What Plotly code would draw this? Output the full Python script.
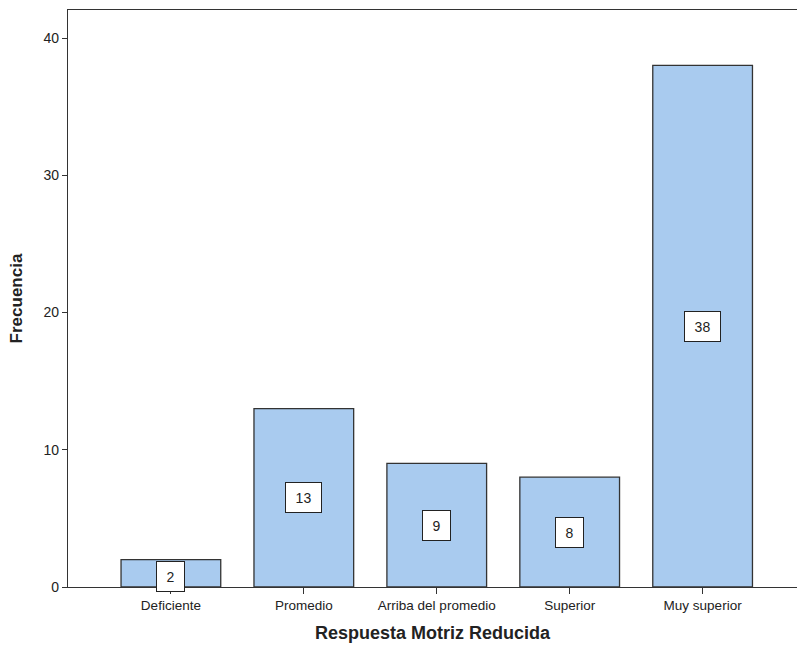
import plotly.graph_objects as go

categories = ["Deficiente", "Promedio", "Arriba del promedio", "Superior", "Muy superior"]
frecuencia = [2, 13, 9, 8, 38]
y_ticks = [0, 10, 20, 30, 40]

fig = go.Figure()
fig.add_trace(go.Bar(
    x=list(range(len(categories))),
    y=frecuencia,
    width=0.75,
    marker=dict(color="#a9cbef", line=dict(color="#333333", width=1.3)),
    hoverinfo="skip",
))

for i, v in enumerate(frecuencia):
    fig.add_annotation(
        x=i, y=v / 2 - (0.2 if v < 5 else 0), text=str(v), showarrow=False,
        font=dict(family="Liberation Sans, Arial", size=14, color="#222222"),
        bgcolor="white", bordercolor="#222222", borderwidth=1,
        borderpad=5, width=25 if v >= 10 else 17, height=19,
    )

fig.update_layout(
    width=797, height=647,
    margin=dict(l=68, r=0, t=10, b=60),
    paper_bgcolor="white", plot_bgcolor="white",
    showlegend=False,
    font=dict(family="Liberation Sans, Arial", size=14, color="#222222"),
    xaxis=dict(
        range=[-0.774, 4.71],
        tickmode="array", tickvals=list(range(len(categories))), ticktext=categories,
        ticks="outside", ticklen=6, tickcolor="#333333",
        tickfont=dict(size=13.5),
        showline=True, linecolor="#333333", linewidth=1.3, mirror=True,
        showgrid=False, zeroline=False,
        title=dict(text="<b>Respuesta Motriz Reducida</b>", font=dict(size=18), standoff=14),
    ),
    yaxis=dict(
        range=[0, 42.04],
        tickmode="array", tickvals=y_ticks, ticktext=[str(t) for t in y_ticks],
        ticks="outside", ticklen=5, tickcolor="#333333",
        tickfont=dict(size=14),
        showline=True, linecolor="#333333", linewidth=1.3,
        showgrid=False, zeroline=False,
        title=dict(text="<b>Frecuencia</b>", font=dict(size=17), standoff=16),
    ),
)

fig.write_html("out.html")
